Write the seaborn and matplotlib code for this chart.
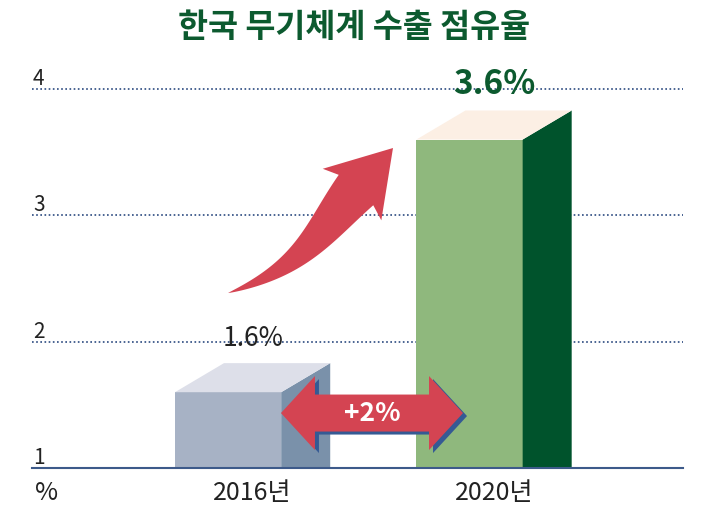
import numpy as np
import matplotlib
matplotlib.use("Agg")
import matplotlib.pyplot as plt
from matplotlib.patches import Polygon
from matplotlib.transforms import ScaledTranslation, IdentityTransform
import seaborn as sns
import pandas as pd

years = ["2016년", "2020년"]
shares = [1.6, 3.6]
share_labels = ["1.6%", "3.6%"]
y_ticks = [1, 2, 3, 4]
title = "한국 무기체계 수출 점유율"
gap_label = "+2%"

front_colors = ["#a7b2c5", "#8fb87d"]
side_colors = ["#7a91aa", "#00532c"]
top_colors = ["#dddfe9", "#fcefe4"]
red = "#d44452"
navy = "#355a94"
green = "#0c5a2f"

sns.set_theme(style="white")
plt.rcParams["font.family"] = ["Noto Sans CJK KR", "DejaVu Sans"]

W, H = 708, 518
fig = plt.figure(figsize=(W / 100, H / 100), dpi=100)
ax = fig.add_axes([32 / W, 50 / H, 651 / W, 3.3 * 126.33 / H])

df = pd.DataFrame({"year": years, "share": shares})
sns.barplot(data=df, x="year", y="share", hue="year", palette=front_colors,
            width=0.44, saturation=1, legend=False, linewidth=0, ax=ax, zorder=2)
ax.set_xlim(-0.812, 1.884)
ax.set_ylim(1, 4.3)
ax.set_xlabel("")
ax.set_ylabel("")

# 3d depth of the boxes (data units)
dx, dy = 0.203, 0.23
base = ax.get_ylim()[0]
bars = sorted(ax.patches, key=lambda p: p.get_x())
for i, p in enumerate(bars):
    x0, w, top = p.get_x(), p.get_width(), p.get_height()
    side = [(x0 + w, base), (x0 + w, top), (x0 + w + dx, top + dy), (x0 + w + dx, base)]
    lid = [(x0, top), (x0 + w, top), (x0 + w + dx, top + dy), (x0 + dx, top + dy)]
    ax.add_patch(Polygon(side, closed=True, fc=side_colors[i], lw=0, zorder=2))
    ax.add_patch(Polygon(lid, closed=True, fc=top_colors[i], lw=0, zorder=2))
    if i == 0:
        ax.annotate(share_labels[i], xy=(x0 + w / 2 + dx / 2, top + dy), xytext=(0, 12),
                    textcoords="offset points", ha="center", va="baseline",
                    fontsize=19, fontweight="light", color="#222222")
    else:
        ax.annotate(share_labels[i], xy=(x0 + w / 2 + dx / 2, top + dy), xytext=(0, 12),
                    textcoords="offset points", ha="center", va="baseline",
                    fontsize=24, fontweight="bold", color=green)

# axes styling
ax.set_yticks(y_ticks)
ax.set_yticklabels([str(t) for t in y_ticks])
ax.tick_params(axis="y", length=0, pad=0, labelsize=15, labelcolor="#222222")
ax.tick_params(axis="x", length=0, pad=9, labelsize=18, labelcolor="#222222")
for lab in ax.get_yticklabels():
    lab.set_ha("left")
    lab.set_va("baseline")
    lab.set_fontweight("light")
    lab.set_transform(lab.get_transform() + ScaledTranslation(1 / 100, 4 / 100, fig.dpi_scale_trans))
for lab in ax.get_xticklabels():
    lab.set_fontweight("light")
    lab.set_transform(lab.get_transform() + ScaledTranslation(24.5 / 100, 0, fig.dpi_scale_trans))
ax.grid(axis="y", linestyle=(0, (1, 1.5)), color="#2b4a80", linewidth=1.2)
ax.set_axisbelow(True)
for s in ["left", "right", "top"]:
    ax.spines[s].set_visible(False)
ax.spines["bottom"].set_color("#3d5a8a")
ax.spines["bottom"].set_linewidth(1.5)
ax.spines["bottom"].set_zorder(3)

ax.annotate("%", xy=(0, 0), xycoords="axes fraction", xytext=(2, -9),
            textcoords="offset points", ha="left", va="top",
            fontsize=18, fontweight="light", color="#222222")

fig.text(0.5, 1 - 28 / H, title, ha="center", va="center",
         fontsize=23.5, fontweight="bold", color=green)

# curved growth arrow (display coords)
T = ax.transData.transform((0.0, 2.385))
Htip = ax.transData.transform((0.683, 3.533))
d = np.array([0.66, 0.75])
d = d / np.linalg.norm(d)
n = np.array([-d[1], d[0]])
head_len, head_hw, body_hw = 56, 39, 23
B = Htip - head_len * d
C1 = T + np.array([75, 25])
C2 = B - 55 * d
t = np.linspace(0, 1, 100)[:, None]
pts = (1 - t) ** 3 * T + 3 * (1 - t) ** 2 * t * C1 + 3 * (1 - t) * t ** 2 * C2 + t ** 3 * B
der = 3 * (1 - t) ** 2 * (C1 - T) + 6 * (1 - t) * t * (C2 - C1) + 3 * t ** 2 * (B - C2)
der = der / np.linalg.norm(der, axis=1)[:, None]
nor = np.column_stack([-der[:, 1], der[:, 0]])
wid = body_hw * t ** 0.85
left = pts + nor * wid
right = pts - nor * wid
outline = np.vstack([left, B + n * head_hw - 6 * d, Htip, B - n * head_hw - 6 * d, right[::-1]])
fig.patches.append(Polygon(outline, closed=True, fc=red, lw=0,
                           transform=IdentityTransform(), figure=fig, zorder=5))

# double arrow between the bars
L = ax.transData.transform((0.219, 1.435))
R = ax.transData.transform((0.973, 1.435))
hl, hh, sh = 34, 37, 18.5
cy = L[1]
shape = np.array([
    (L[0], cy), (L[0] + hl, cy + hh), (L[0] + hl, cy + sh), (R[0] - hl, cy + sh),
    (R[0] - hl, cy + hh), (R[0], cy), (R[0] - hl, cy - hh), (R[0] - hl, cy - sh),
    (L[0] + hl, cy - sh), (L[0] + hl, cy - hh)])
fig.patches.append(Polygon(shape + np.array([4, -3]), closed=True, fc=navy, lw=0,
                           transform=IdentityTransform(), figure=fig, zorder=5))
fig.patches.append(Polygon(shape, closed=True, fc=red, lw=0,
                           transform=IdentityTransform(), figure=fig, zorder=6))
fig.text((L[0] + R[0]) / 2 / W, cy / H, gap_label, ha="center", va="center",
         fontsize=19, fontweight="bold", color="white", zorder=7)

fig.savefig("out.png", dpi=100)
